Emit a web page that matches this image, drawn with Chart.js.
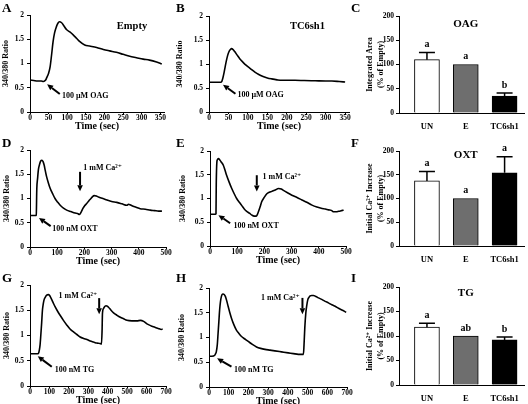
<!DOCTYPE html>
<html>
<head>
<meta charset="utf-8">
<script src="https://cdn.jsdelivr.net/npm/chart.js@4"></script>
<style>
  body { margin: 0; background: #fff; }
  #wrap { position: relative; width: 528px; height: 404px; overflow: hidden; }
  #wrap canvas { position: absolute; left: 0; top: 0; }
  .tag { position: absolute; font: bold 13px 'Liberation Serif', serif; line-height: 13px; }
</style>
</head>
<body>
<div id="wrap">
  <canvas id="cA" width="528" height="404"></canvas>
  <canvas id="cB" width="528" height="404"></canvas>
  <canvas id="cC" width="528" height="404"></canvas>
  <canvas id="cD" width="528" height="404"></canvas>
  <canvas id="cE" width="528" height="404"></canvas>
  <canvas id="cF" width="528" height="404"></canvas>
  <canvas id="cG" width="528" height="404"></canvas>
  <canvas id="cH" width="528" height="404"></canvas>
  <canvas id="cI" width="528" height="404"></canvas>
  <div class="tag" style="left:2px;top:1px">A</div>
  <div class="tag" style="left:176px;top:1px">B</div>
  <div class="tag" style="left:351px;top:1px">C</div>
  <div class="tag" style="left:2px;top:136px">D</div>
  <div class="tag" style="left:176px;top:136px">E</div>
  <div class="tag" style="left:351px;top:136px">F</div>
  <div class="tag" style="left:2px;top:271px">G</div>
  <div class="tag" style="left:176px;top:271px">H</div>
  <div class="tag" style="left:351px;top:271px">I</div>
</div>
<script>
// ---- data ----
// A: OAG, Empty vector
const oagEmptyTime = [0, 10, 20, 30, 36, 42, 45, 50, 54, 58, 62, 66, 71, 75, 79, 85, 90, 98, 107, 116, 125, 134, 147, 160, 179, 197, 214, 232, 250, 268, 286, 304, 321, 340, 354];
const oagEmptyRatio = [0.66, 0.65, 0.64, 0.64, 0.63, 0.66, 0.71, 0.80, 0.93, 1.18, 1.45, 1.63, 1.76, 1.83, 1.86, 1.84, 1.79, 1.70, 1.65, 1.59, 1.52, 1.45, 1.38, 1.36, 1.33, 1.29, 1.26, 1.23, 1.19, 1.15, 1.12, 1.09, 1.07, 1.03, 0.99];
// B: OAG, TC6sh1
const oagShTime = [0, 15, 30, 33, 36, 39, 42, 45, 48, 51, 55, 58, 62, 66, 72, 79, 87, 96, 107, 118, 128, 139, 150, 161, 175, 187, 205, 221, 245, 273, 300, 316, 335, 350];
const oagShRatio = [0.62, 0.62, 0.62, 0.64, 0.72, 0.83, 0.96, 1.08, 1.18, 1.25, 1.30, 1.32, 1.30, 1.26, 1.19, 1.11, 1.04, 0.97, 0.90, 0.83, 0.78, 0.74, 0.71, 0.69, 0.67, 0.66, 0.66, 0.66, 0.655, 0.65, 0.645, 0.645, 0.635, 0.625];
// D: OXT, Empty vector
const oxtEmptyTime = [0, 10, 20, 23, 25, 28, 31, 35, 39, 44, 48, 52, 56, 61, 67, 74, 83, 92, 101, 111, 123, 135, 150, 166, 175, 182, 188, 194, 201, 209, 216, 224, 230, 236, 244, 252, 268, 283, 300, 319, 338, 356, 362, 368, 375, 390, 405, 424, 442, 458, 473, 485];
const oxtEmptyRatio = [0.65, 0.65, 0.65, 0.66, 1.20, 1.42, 1.60, 1.70, 1.77, 1.79, 1.76, 1.69, 1.58, 1.45, 1.33, 1.21, 1.10, 1.00, 0.93, 0.86, 0.80, 0.76, 0.73, 0.70, 0.69, 0.67, 0.72, 0.79, 0.85, 0.90, 0.95, 1.00, 1.04, 1.06, 1.05, 1.03, 1.00, 0.97, 0.94, 0.92, 0.89, 0.86, 0.88, 0.87, 0.85, 0.82, 0.79, 0.78, 0.76, 0.75, 0.74, 0.74];
// E: OXT, TC6sh1
const oxtShTime = [0, 10, 20, 22, 23, 26, 31, 36, 41, 49, 55, 61, 70, 80, 89, 98, 108, 117, 126, 135, 145, 154, 162, 170, 174, 178, 184, 190, 200, 209, 218, 227, 240, 252, 262, 270, 285, 301, 320, 338, 356, 375, 393, 412, 424, 436, 446, 455, 464, 473, 482, 491];
const oxtShRatio = [0.67, 0.67, 0.67, 0.68, 1.30, 1.80, 1.84, 1.81, 1.77, 1.70, 1.60, 1.49, 1.35, 1.21, 1.10, 1.00, 0.92, 0.85, 0.78, 0.73, 0.69, 0.65, 0.63, 0.63, 0.66, 0.72, 0.82, 0.93, 1.03, 1.10, 1.13, 1.15, 1.18, 1.21, 1.20, 1.17, 1.12, 1.07, 1.02, 0.97, 0.92, 0.86, 0.82, 0.79, 0.78, 0.76, 0.75, 0.72, 0.72, 0.73, 0.74, 0.76];
// G: TG, Empty vector
const tgEmptyTime = [0, 20, 40, 45, 48, 52, 55, 60, 64, 68, 72, 79, 86, 95, 101, 107, 118, 129, 142, 155, 172, 189, 206, 224, 241, 258, 276, 293, 310, 327, 344, 361, 368, 371, 373, 379, 386, 392, 398, 404, 417, 430, 448, 465, 482, 499, 525, 551, 568, 585, 602, 624, 645, 660, 676, 683];
const tgEmptyRatio = [0.64, 0.64, 0.64, 0.66, 0.71, 0.82, 0.97, 1.25, 1.50, 1.62, 1.70, 1.76, 1.80, 1.81, 1.79, 1.75, 1.66, 1.57, 1.48, 1.40, 1.30, 1.21, 1.13, 1.07, 1.02, 0.97, 0.94, 0.92, 0.89, 0.87, 0.85, 0.84, 0.83, 1.10, 1.44, 1.54, 1.58, 1.59, 1.58, 1.56, 1.50, 1.45, 1.40, 1.36, 1.33, 1.30, 1.29, 1.29, 1.30, 1.28, 1.23, 1.19, 1.16, 1.14, 1.12, 1.13];
// H: TG, TC6sh1
const tgShTime = [0, 15, 29, 33, 37, 42, 46, 50, 54, 58, 63, 67, 71, 77, 83, 90, 97, 105, 114, 126, 139, 152, 165, 182, 199, 220, 241, 262, 284, 309, 334, 368, 402, 428, 453, 470, 479, 482, 486, 491, 496, 501, 507, 513, 521, 530, 542, 555, 572, 589, 606, 623, 640, 657, 677, 696];
const tgShRatio = [0.62, 0.62, 0.64, 0.67, 0.71, 0.85, 1.08, 1.32, 1.56, 1.72, 1.83, 1.87, 1.88, 1.87, 1.83, 1.74, 1.63, 1.51, 1.39, 1.26, 1.15, 1.08, 1.02, 0.97, 0.92, 0.86, 0.81, 0.78, 0.76, 0.745, 0.73, 0.71, 0.69, 0.675, 0.66, 0.66, 0.66, 0.85, 1.20, 1.49, 1.65, 1.76, 1.81, 1.84, 1.85, 1.85, 1.83, 1.80, 1.77, 1.73, 1.70, 1.66, 1.63, 1.59, 1.55, 1.51];

// bar panels (% of Empty), upper error = SEM
const groups = ['UN', 'E', 'TC6sh1'];
const oagArea = [110, 100, 35];
const oagSem = [15, 0, 6];
const oagLetters = ['a', 'a', 'b'];
const oxtInitial = [137, 100, 154];
const oxtSem = [20, 0, 34];
const oxtLetters = ['a', 'a', 'a'];
const tgInitial = [118, 100, 92];
const tgSem = [8, 0, 6];
const tgLetters = ['a', 'ab', 'b'];

// tick labels
const ratioTicks = [0, 0.5, 1, 1.5, 2];
const pctTicks = [0, 50, 100, 150, 200];
const oagTimeTicks = [0, 50, 100, 150, 200, 250, 300, 350];
const oxtTimeTicks = [0, 100, 200, 300, 400, 500];
const tgTimeTicks = [0, 100, 200, 300, 400, 500, 600, 700];

const SERIF = "'Liberation Serif', 'DejaVu Serif', serif";
const barColors = ['#ffffff', '#6e6e6e', '#000000'];

function bold(size, lh) {
    return { family: SERIF, size: size, weight: 'bold', lineHeight: lh || 1.2 };
}

// fixed axis box sizes so the plot area lands where it does in the figure
function fixWidth(w) {
    return s => { s.width = w; s.paddingTop = s.paddingBottom = s.paddingLeft = s.paddingRight = 0; };
}
function fixHeight(h) {
    return s => { s.height = h; s.paddingTop = s.paddingBottom = s.paddingLeft = s.paddingRight = 0; };
}
function setTicks(values) {
    return s => { s.ticks = values.map(v => ({ value: v })); };
}

function drawArrow(ctx, x1, y1, x2, y2) {
    const ang = Math.atan2(y2 - y1, x2 - x1);
    const len = 6, half = 2.8;
    const bx = x2 - len * Math.cos(ang), by = y2 - len * Math.sin(ang);
    ctx.strokeStyle = '#000';
    ctx.lineWidth = 2;
    ctx.beginPath();
    ctx.moveTo(x1, y1);
    ctx.lineTo(bx, by);
    ctx.stroke();
    ctx.fillStyle = '#000';
    ctx.beginPath();
    ctx.moveTo(x2, y2);
    ctx.lineTo(bx + half * Math.sin(ang), by - half * Math.cos(ang));
    ctx.lineTo(bx - half * Math.sin(ang), by + half * Math.cos(ang));
    ctx.closePath();
    ctx.fill();
}

// arrows and labels placed in data units
const notesPlugin = {
    id: 'notes',
    afterDatasetsDraw(chart, args, opts) {
        const { ctx } = chart;
        const x = chart.scales.x, y = chart.scales.y;
        ctx.save();
        (opts.arrows || []).forEach(a => {
            drawArrow(ctx, x.getPixelForValue(a[0]), y.getPixelForValue(a[1]),
                x.getPixelForValue(a[2]), y.getPixelForValue(a[3]));
        });
        (opts.texts || []).forEach(t => {
            ctx.font = 'bold ' + (t.size || 8) + 'px ' + SERIF;
            ctx.textAlign = t.align || 'left';
            ctx.textBaseline = 'middle';
            ctx.fillStyle = '#000';
            ctx.fillText(t.text, x.getPixelForValue(t.x), y.getPixelForValue(t.y));
        });
        ctx.restore();
    }
};

// SEM caps and significance letters on the bars
const semPlugin = {
    id: 'sem',
    afterDatasetsDraw(chart, args, opts) {
        if (!opts.errors) return;
        const { ctx } = chart;
        const y = chart.scales.y;
        const meta = chart.getDatasetMeta(0);
        const values = chart.data.datasets[0].data;
        ctx.save();
        ctx.strokeStyle = '#000';
        ctx.lineWidth = 1.5;
        meta.data.forEach((bar, i) => {
            const v = values[i].y;
            const top = y.getPixelForValue(v + opts.errors[i]);
            if (opts.errors[i] > 0) {
                ctx.beginPath();
                ctx.moveTo(bar.x, y.getPixelForValue(v));
                ctx.lineTo(bar.x, top);
                ctx.moveTo(bar.x - 8, top);
                ctx.lineTo(bar.x + 8, top);
                ctx.stroke();
            }
            ctx.font = 'bold 10px ' + SERIF;
            ctx.textAlign = 'center';
            ctx.textBaseline = 'middle';
            ctx.fillStyle = '#000';
            ctx.fillText(opts.letters[i], bar.x, top - 8);
        });
        ctx.restore();
    }
};

Chart.register(notesPlugin, semPlugin);

function padFor(area, yw, xh) {
    return { left: area.l - yw, top: area.t, right: 528 - area.r, bottom: 404 - area.b - xh };
}

function baseOptions(area, yw, xh) {
    return {
        responsive: false,
        animation: false,
        devicePixelRatio: 1,
        layout: { padding: padFor(area, yw, xh) },
        plugins: { legend: { display: false }, tooltip: { enabled: false } }
    };
}

function lineChart(id, times, ratios, xMax, xTicks, area, yw, notes) {
    const opts = baseOptions(area, yw, 20);
    opts.plugins.notes = notes;
    opts.scales = {
        x: {
            type: 'linear', min: 0, max: xMax,
            afterBuildTicks: setTicks(xTicks),
            afterFit: fixHeight(20),
            grid: { display: true, drawOnChartArea: false, drawTicks: true, tickLength: 2, color: '#000' },
            border: { display: true, color: '#000', width: 1 },
            ticks: { color: '#000', font: bold(7.5), padding: 0, maxRotation: 0, autoSkip: false, callback: v => String(v) },
            title: { display: true, text: 'Time (sec)', color: '#000', font: bold(10), padding: 0 }
        },
        y: {
            min: 0, max: 2,
            afterBuildTicks: setTicks(ratioTicks),
            afterFit: fixWidth(yw),
            grid: { display: true, drawOnChartArea: false, drawTicks: true, tickLength: 3, color: '#000' },
            border: { display: true, color: '#000', width: 1 },
            ticks: { color: '#000', font: bold(7.5), padding: 3, callback: v => String(v) },
            title: { display: true, text: '340/380 Ratio', color: '#000', font: bold(8), padding: 0 }
        }
    };
    return new Chart(document.getElementById(id), {
        type: 'line',
        data: {
            datasets: [{
                data: times.map((t, i) => ({ x: t, y: ratios[i] })),
                borderColor: '#000',
                borderWidth: 1.6,
                pointRadius: 0,
                cubicInterpolationMode: 'monotone',
                fill: false
            }]
        },
        options: opts
    });
}

function barChart(id, values, errors, letters, label, labelValue, yTitle, area) {
    const yw = 35;
    const opts = baseOptions(area, yw, 26);
    opts.plugins.sem = { errors: errors, letters: letters };
    opts.plugins.notes = { texts: [{ x: 1, y: labelValue, text: label, size: 11, align: 'center' }] };
    opts.scales = {
        x: {
            type: 'linear', min: -0.72, max: 2.5, offset: false,
            afterBuildTicks: setTicks(groups.map((g, i) => i)),
            afterFit: fixHeight(26),
            grid: { display: false, drawTicks: false, offset: false },
            border: { display: true, color: '#000', width: 1 },
            ticks: { color: '#000', font: bold(8.5), padding: 9, maxRotation: 0, autoSkip: false, callback: v => groups[v] }
        },
        y: {
            min: 0, max: 200,
            afterBuildTicks: setTicks(pctTicks),
            afterFit: fixWidth(yw),
            grid: { display: true, drawOnChartArea: false, drawTicks: true, tickLength: 3, color: '#000' },
            border: { display: true, color: '#000', width: 1 },
            ticks: { color: '#000', font: bold(7.5), padding: 2, callback: v => String(v) },
            title: { display: true, text: yTitle, color: '#000', font: bold(8, 1.4), padding: 0 }
        }
    };
    return new Chart(document.getElementById(id), {
        type: 'bar',
        data: {
            datasets: [{
                data: values.map((v, i) => ({ x: i, y: v })),
                backgroundColor: barColors,
                borderColor: '#000',
                borderWidth: 1,
                borderSkipped: 'bottom',
                barThickness: 25
            }]
        },
        options: opts
    });
}

// row 1: OAG
lineChart('cA', oagEmptyTime, oagEmptyRatio, 360, oagTimeTicks, { l: 30, t: 15, r: 164, b: 112 }, 29, {
    arrows: [[80, 0.37, 46, 0.57]],
    texts: [{ x: 86, y: 0.34, text: '100 µM OAG' }, { x: 274, y: 1.76, text: 'Empty', size: 10.5, align: 'center' }]
});
lineChart('cB', oagShTime, oagShRatio, 360, oagTimeTicks, { l: 209, t: 16, r: 349, b: 112 }, 34, {
    arrows: [[68, 0.38, 36, 0.57]],
    texts: [{ x: 73, y: 0.36, text: '100 µM OAG' }, { x: 253, y: 1.78, text: 'TC6sh1', size: 10.5, align: 'center' }]
});
barChart('cC', oagArea, oagSem, oagLetters, 'OAG', 184, ['Integrated Area', '(% of Empty)'], { l: 399, t: 16, r: 524, b: 113 });

// row 2: OXT
lineChart('cD', oxtEmptyTime, oxtEmptyRatio, 500, oxtTimeTicks, { l: 30, t: 150, r: 166, b: 247 }, 28, {
    arrows: [[76, 0.43, 33, 0.6], [184, 1.55, 184, 1.15]],
    texts: [{ x: 82, y: 0.38, text: '100 nM OXT' }, { x: 196, y: 1.62, text: '1 mM Ca²⁺' }]
});
lineChart('cE', oxtShTime, oxtShRatio, 500, oxtTimeTicks, { l: 210, t: 151, r: 346, b: 246 }, 31.5, {
    arrows: [[74, 0.48, 31, 0.65], [172, 1.49, 172, 1.15]],
    texts: [{ x: 86, y: 0.43, text: '100 nM OXT' }, { x: 193, y: 1.45, text: '1 mM Ca²⁺' }]
});
barChart('cF', oxtInitial, oxtSem, oxtLetters, 'OXT', 191, ['Initial Ca²⁺ Increase', '(% of Empty)'], { l: 399, t: 151, r: 524, b: 246 });

// row 3: TG
lineChart('cG', tgEmptyTime, tgEmptyRatio, 700, tgTimeTicks, { l: 30, t: 285, r: 166, b: 386 }, 28, {
    arrows: [[112, 0.38, 40, 0.59], [356, 1.74, 356, 1.42]],
    texts: [{ x: 127, y: 0.32, text: '100 nM TG' }, { x: 346, y: 1.79, text: '1 mM Ca²⁺', align: 'right' }]
});
lineChart('cH', tgShTime, tgShRatio, 700, tgTimeTicks, { l: 209, t: 288, r: 347, b: 387 }, 31.5, {
    arrows: [[114, 0.41, 41, 0.58], [474, 1.80, 474, 1.47]],
    texts: [{ x: 127, y: 0.35, text: '100 nM TG' }, { x: 460, y: 1.80, text: '1 mM Ca²⁺', align: 'right' }]
});
barChart('cI', tgInitial, tgSem, tgLetters, 'TG', 188, ['Initial Ca²⁺ Increase', '(% of Empty)'], { l: 399, t: 287, r: 524, b: 385 });
</script>
</body>
</html>
